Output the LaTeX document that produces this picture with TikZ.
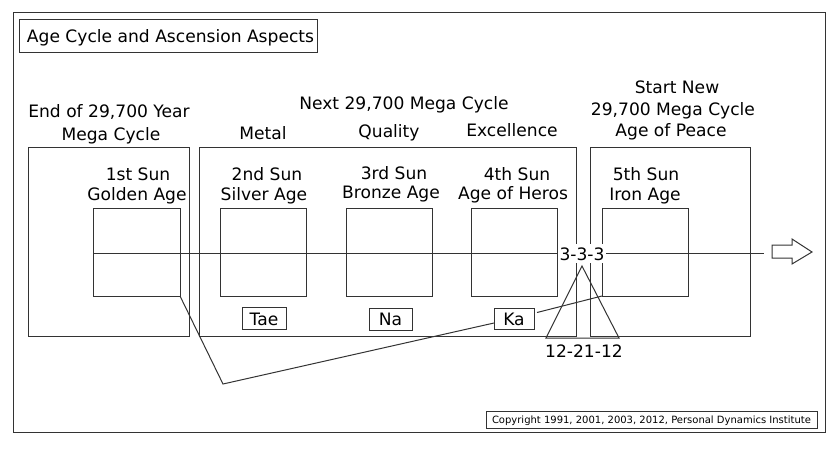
\documentclass[tikz,border=0pt]{standalone}
\usepackage{fontspec}
\setmainfont{DejaVu Sans}
\begin{document}
\begin{tikzpicture}[x=1pt,y=-1pt,
  ln/.style={draw=black!80,line width=1pt},
  frame/.style={ln,anchor=north west,inner sep=0pt,outer sep=0pt},
  lbl/.style={anchor=base,inner sep=0pt,font=\fontsize{17.1}{20}\selectfont},
  tag/.style={ln,fill=white,anchor=north west,inner sep=0pt,outer sep=0pt}]
\useasboundingbox (0,0) rectangle (839,448);
% outer frame
\node[frame,minimum width=812pt,minimum height=420pt] (outer) at (13,12) {};
% title
\node[frame,minimum width=298pt,minimum height=33pt] (title) at (19,19) {};
\node[lbl] (titletext) at (170.5,42) {Age Cycle and Ascension Aspects};
% big boxes
\node[frame,minimum width=161pt,minimum height=189pt] (big1) at (28,147) {};
\node[frame,minimum width=377pt,minimum height=189pt] (big2) at (199,147) {};
\node[frame,minimum width=160pt,minimum height=189pt] (big3) at (590,147) {};
% inner boxes
\node[frame,minimum width=87pt,minimum height=88pt] (in1) at (93,208) {};
\node[frame,minimum width=86pt,minimum height=88pt] (in2) at (220,208) {};
\node[frame,minimum width=86pt,minimum height=88pt] (in3) at (346,208) {};
\node[frame,minimum width=86pt,minimum height=88pt] (in4) at (471,208) {};
\node[frame,minimum width=86pt,minimum height=88pt] (in5) at (602,208) {};
% horizontal timeline
\coordinate (lineend) at (764,253);
\draw[ln] (in1.west |- 0,253) -- (lineend);
% hollow arrow
\draw[ln,line join=miter] (772,245) -- (792,245) -- (792,239) -- (812,252) -- (792,264) -- (792,258) -- (772,258) -- cycle;
% triangle
\coordinate (apex) at (582,266);
\coordinate (bl) at (546,338);
\coordinate (br) at (619,338);
\draw[ln] (apex) -- (bl) -- (br) -- cycle;
% tags
\node[tag,minimum width=44pt,minimum height=22pt] (tae) at (242,307) {};
\node[lbl] (taetext) at (264,325) {Tae};
\node[tag,minimum width=43pt,minimum height=22pt] (na) at (369,308) {};
\node[lbl] (natext) at (390.5,325) {Na};
\node[tag,minimum width=40pt,minimum height=21pt] (ka) at (494,308) {};
\node[lbl] (katext) at (514,325) {Ka};
% connector polyline
\coordinate (bottomturn) at (223,384);
\draw[ln] (in1.south east) -- (bottomturn) -- ([yshift=-4.5pt]ka.west);
\draw[ln] ([shift={(3pt,6pt)}]ka.east) -- (in5.south west);
% 3-3-3 label
\node[anchor=base,fill=white,inner xsep=2pt,inner ysep=3pt,font=\fontsize{17.1}{20}\selectfont] (three) at (582,260) {3-3-3};
\node[lbl] (twelve) at (584,357) {12-21-12};
% labels
\node[lbl] (end1) at (109,117) {End of 29,700 Year};
\node[lbl] (end2) at (111,140) {Mega Cycle};
\node[lbl] (next) at (404,109) {Next 29,700 Mega Cycle};
\node[lbl] (metal) at (263,139) {Metal};
\node[lbl] (quality) at (389,137) {Quality};
\node[lbl] (excel) at (512,136) {Excellence};
\node[lbl] (start1) at (677,93) {Start New};
\node[lbl] (start2) at (673,115) {29,700 Mega Cycle};
\node[lbl] (start3) at (671,136) {Age of Peace};
\node[lbl] (s1a) at (138,180) {1st Sun};
\node[lbl] (s1b) at (137,200) {Golden Age};
\node[lbl] (s2a) at (267,180) {2nd Sun};
\node[lbl] (s2b) at (264,200) {Silver Age};
\node[lbl] (s3a) at (394,179) {3rd Sun};
\node[lbl] (s3b) at (391,198) {Bronze Age};
\node[lbl] (s4a) at (517,180) {4th Sun};
\node[lbl] (s4b) at (513,199) {Age of Heros};
\node[lbl] (s5a) at (646,180) {5th Sun};
\node[lbl] (s5b) at (645,200) {Iron Age};
% copyright
\node[frame,minimum width=331pt,minimum height=17pt] (copy) at (486,411) {};
\node[anchor=base,inner sep=0pt,font=\fontsize{10}{12}\selectfont] (copytext) at (651.5,423) {Copyright 1991, 2001, 2003, 2012, Personal Dynamics Institute};
\end{tikzpicture}
\end{document}
